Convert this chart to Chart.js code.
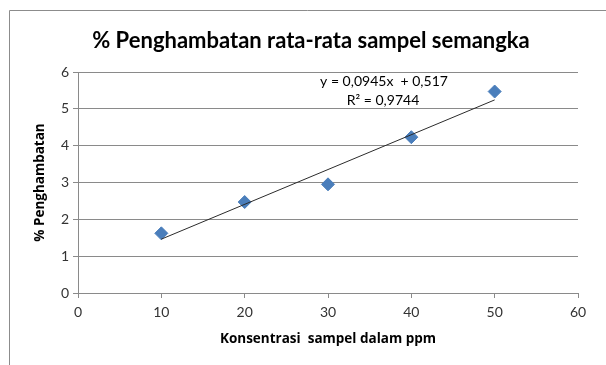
<!DOCTYPE html>
<html>
<head>
<meta charset="utf-8">
<script src="https://cdn.jsdelivr.net/npm/chart.js@4.4.1/dist/chart.umd.min.js"></script>
<style>
  html, body { margin: 0; padding: 0; background: #fff; }
  canvas { display: block; }
</style>
</head>
<body>
<canvas id="chart" width="606" height="365"></canvas>
<script>
const concentration = [10, 20, 30, 40, 50];
const inhibition = [1.62, 2.47, 2.95, 4.23, 5.47];
const trendX = [10, 50];
const trendY = [1.462, 5.242];
const equationLines = ['y = 0,0945x  + 0,517', 'R² = 0,9744'];

const gridGray = '#8a8a8a';
const labelFont = 'Lato, "Open Sans", sans-serif';
const axisTitleFont = '"Open Sans", Lato, sans-serif';

// outer frame like the Excel chart box
const framePlugin = {
    id: 'frame',
    beforeDraw(chart) {
        const ctx = chart.ctx;
        ctx.save();
        ctx.strokeStyle = '#8c8c8c';
        ctx.lineWidth = 1;
        ctx.beginPath();
        ctx.moveTo(9.5, 365);
        ctx.lineTo(9.5, 10.5);
        ctx.lineTo(606, 10.5);
        ctx.stroke();
        ctx.restore();
    }
};

// title and trendline equation
const textPlugin = {
    id: 'texts',
    afterDraw(chart) {
        const ctx = chart.ctx;
        ctx.save();
        ctx.fillStyle = '#000';
        ctx.textAlign = 'center';
        ctx.textBaseline = 'middle';
        ctx.font = 'bold 22px ' + labelFont;
        ctx.fillText('% Penghambatan rata-rata sampel semangka', 311, 41);
        ctx.font = '14px ' + labelFont;
        ctx.fillText(equationLines[0], 384, 81);
        ctx.fillText(equationLines[1], 383, 100);
        ctx.restore();
    }
};

new Chart(document.getElementById('chart'), {
    type: 'scatter',
    data: {
        datasets: [{
            type: 'line',
            data: trendX.map((x, i) => ({ x: x, y: trendY[i] })),
            borderColor: '#2b2b2b',
            borderWidth: 1,
            pointRadius: 0,
            fill: false,
            order: 0
        }, {
            data: concentration.map((x, i) => ({ x: x, y: inhibition[i] })),
            pointStyle: 'rectRot',
            pointRadius: 6.5,
            pointBackgroundColor: '#4a7ebb',
            pointBorderColor: '#4a7ebb',
            pointBorderWidth: 1,
            order: 1
        }]
    },
    options: {
        responsive: false,
        animation: false,
        layout: { padding: { top: 72, right: 28, left: 0, bottom: 0 } },
        plugins: {
            legend: { display: false },
            tooltip: { enabled: false }
        },
        scales: {
            x: {
                type: 'linear',
                min: 0,
                max: 60,
                ticks: { stepSize: 10, color: '#333', padding: 6, font: { family: labelFont, size: 14 } },
                grid: { drawOnChartArea: false, drawTicks: true, tickLength: 5, tickColor: gridGray },
                border: { color: gridGray },
                title: {
                    display: true,
                    text: 'Konsentrasi  sampel dalam ppm',
                    color: '#000',
                    font: { family: axisTitleFont, size: 13.5, weight: 'bold' },
                    padding: { top: 0, bottom: 18 }
                },
                afterFit(scale) { scale.height = 72; }
            },
            y: {
                min: 0,
                max: 6,
                ticks: { stepSize: 1, color: '#333', padding: 4, font: { family: labelFont, size: 14 } },
                grid: { color: gridGray, tickLength: 5, tickColor: gridGray },
                border: { color: gridGray },
                title: {
                    display: true,
                    text: '% Penghambatan',
                    color: '#000',
                    font: { family: axisTitleFont, size: 13.5, weight: 'bold' },
                    padding: { top: 32, bottom: 0 }
                },
                afterFit(scale) { scale.width = 78; }
            }
        }
    },
    plugins: [framePlugin, textPlugin]
});
</script>
</body>
</html>
